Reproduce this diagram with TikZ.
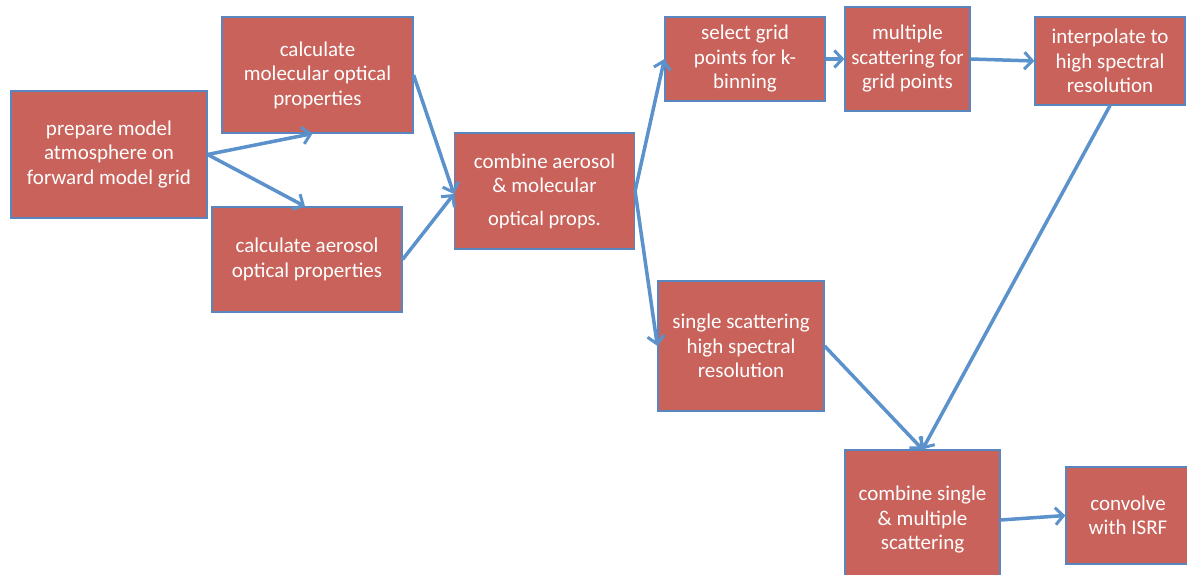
\documentclass[tikz,border=0pt]{standalone}
\usepackage{fontspec}
\setmainfont{Carlito}
\usetikzlibrary{arrows.meta}
\definecolor{boxfill}{HTML}{C9625A}
\definecolor{boxline}{HTML}{5A86C0}
\definecolor{arrowc}{HTML}{5B92CC}
\begin{document}
\begin{tikzpicture}[x=1pt,y=-1pt,
  box/.style={draw=boxline,fill=boxfill,line width=1.2pt,text=white,align=center,inner sep=0pt,
    font=\fontsize{21}{24.5}\selectfont},
  arr/.style={draw=arrowc,line width=3.5pt,-{Straight Barb[length=8pt,width=17pt,line width=3pt]}}]
\useasboundingbox (0,0) rectangle (1187,575);
\fill[white] (0,0) rectangle (1187,575);
\node[box,minimum width=196pt,minimum height=127pt] (b1) at (109,154.5) {prepare model\\atmosphere on\\forward model grid};
\node[box,minimum width=191pt,minimum height=116pt] (b2) at (317.5,75) {calculate\\molecular optical\\properties};
\node[box,minimum width=190pt,minimum height=105pt] (b3) at (307,259.5) {calculate aerosol\\optical properties};
\node[box,minimum width=180pt,minimum height=116pt] (b4) at (544.5,191) {combine aerosol\\\& molecular\\[8pt]{\fontsize{20.5}{24}\selectfont optical props.}};
\node[box,minimum width=160pt,minimum height=84pt] (b5) at (745,59) {select grid\\points for k-\\binning};
\node[box,minimum width=125pt,minimum height=104pt] (b6) at (907.5,59) {multiple\\scattering for\\grid points};
\node[box,minimum width=150pt,minimum height=88pt] (b7) at (1110,61) {interpolate to\\high spectral\\resolution};
\node[box,minimum width=166pt,minimum height=130pt] (b8) at (741,346) {single scattering\\high spectral\\resolution};
\node[box,minimum width=155pt,minimum height=140pt] (b9) at (922.5,520) {combine single\\\& multiple\\scattering};
\node[box,minimum width=124pt,minimum height=97pt] (b10) at (1128,515.5) {convolve\\with ISRF};
\coordinate (b4in) at ([yshift=-3pt]b4.west);
\draw[arr] (b1.east) -- ([xshift=-5pt]b2.south);
\draw[arr] (b1.east) -- ([xshift=-2pt]b3.north);
\draw[arr] (b2.east) -- (b4in);
\draw[arr] (b3.east) -- (b4in);
\draw[arr] (b4.east) -- (b5.west);
\draw[arr] (b4.east) -- (b8.west);
\draw[arr] (b5.east) -- (b6.west);
\draw[arr] (b6.east) -- (b7.west);
\draw[arr] (b7.south) -- (b9.north);
\draw[arr] (b8.east) -- (b9.north);
\draw[arr] (b9.east) -- (b10.west);
\end{tikzpicture}
\end{document}
